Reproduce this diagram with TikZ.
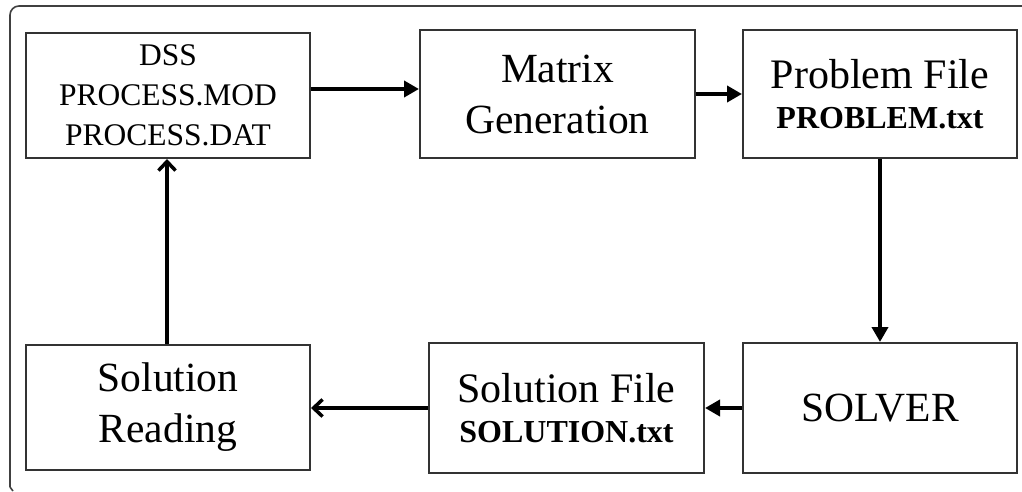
\documentclass[tikz,border=0pt]{standalone}
\usepackage{fontspec}
\setmainfont{Liberation Serif}
\usetikzlibrary{arrows.meta}
\begin{document}
\begin{tikzpicture}[x=1pt,y=-1pt,
  blk/.style={draw=black!80,line width=2pt,inner sep=0pt,align=center,fill=white},
  big/.style={font=\fontsize{41.5}{51}\selectfont},
  two/.style={font=\fontsize{42}{40}\selectfont},
  small/.style={font=\fontsize{31.5}{40}\selectfont},
  flow/.style={line width=4.5pt,-{Triangle[length=15pt,width=16pt]}},
  barb/.style={line width=3.5pt,-{Straight Barb[length=9pt,width=17pt,line width=3.5pt]}},
  frame/.style={draw=black!75,line width=1.6pt}]

  % canvas
  \useasboundingbox (0,0) rectangle (1022,492);

  % open frame: top and left sides only, with a small tick at the foot
  \coordinate (ftr) at (1022,6);
  \coordinate (ftl) at (10,6);
  \coordinate (fbl) at (10,487);
  \coordinate (fend) at (13,491);
  \draw[frame,rounded corners=9pt] (ftr) -- (ftl) -- (fbl);
  \draw[frame] (fbl) -- (fend);

  % blocks, top row
  \node[blk,small,minimum width=284pt,minimum height=125pt] (dss) at (168,95.5)
    {DSS\\PROCESS.MOD\\PROCESS.DAT};
  \node[blk,big,minimum width=275pt,minimum height=128pt] (matrix) at (557.5,94)
    {Matrix\\Generation};
  \node[blk,two,minimum width=274pt,minimum height=128pt] (problem) at (880,94)
    {Problem File\\{\bfseries\fontsize{32}{40}\selectfont PROBLEM.txt}};

  % blocks, bottom row
  \node[blk,big,minimum width=284pt,minimum height=125pt] (reading) at (168,407.5)
    {Solution\\Reading};
  \node[blk,two,minimum width=275pt,minimum height=130pt] (solfile) at (566.5,408)
    {Solution File\\{\bfseries\fontsize{32}{40}\selectfont SOLUTION.txt}};
  \node[blk,big,minimum width=274pt,minimum height=130pt] (solver) at (880,408)
    {SOLVER};

  % connectors
  \draw[flow,line width=4pt] ([yshift=6.5]dss.east) -- ([yshift=6.5]dss.east -| matrix.west);
  \draw[flow] (matrix.east) -- (problem.west);
  \draw[flow] (problem.south) -- (solver.north);
  \draw[flow] (solver.west) -- (solfile.east);
  \draw[barb] (solfile.west) -- (solfile.west -| reading.east);
  \draw[barb,line width=4pt] ([xshift=-1]reading.north) -- ([xshift=-1]dss.south);
\end{tikzpicture}
\end{document}
